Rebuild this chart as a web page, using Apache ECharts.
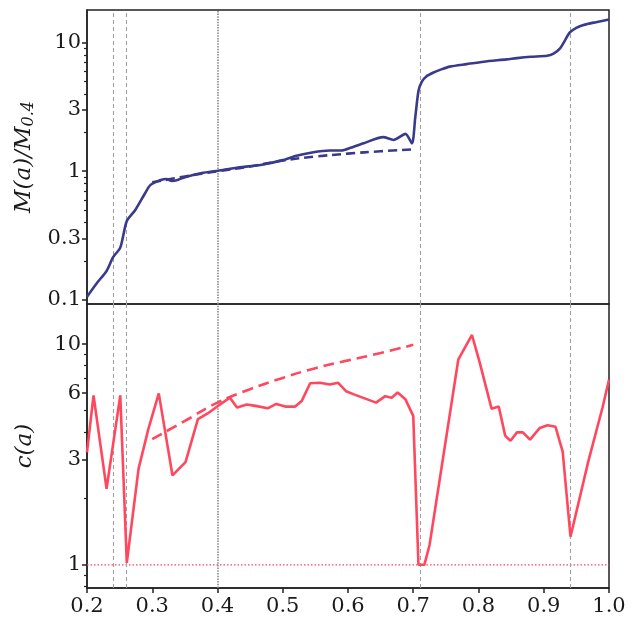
<!DOCTYPE html>
<html>
<head>
<meta charset="utf-8">
<script src="https://cdn.jsdelivr.net/npm/echarts@6/dist/echarts.min.js"></script>
<style>
  html, body { margin: 0; padding: 0; background: #fff; }
  #chart { width: 638px; height: 617px; }
</style>
</head>
<body>
<div id="chart"></div>
<script>
// Mass accretion history, normalised to the mass at a = 0.4
const massA = [0.200, 0.215, 0.230, 0.240, 0.251, 0.261, 0.274, 0.289, 0.297, 0.312,
  0.322, 0.330, 0.340, 0.350, 0.376, 0.401, 0.427, 0.470, 0.500, 0.521,
  0.545, 0.572, 0.590, 0.604, 0.624, 0.654, 0.670, 0.688, 0.698, 0.703,
  0.708, 0.713, 0.720, 0.731, 0.741, 0.756, 0.782, 0.808, 0.843, 0.859,
  0.880, 0.905, 0.915, 0.925, 0.933, 0.940, 0.950, 0.961, 0.980, 1.000];
const massM = [0.106, 0.135, 0.168, 0.215, 0.255, 0.41, 0.50, 0.675, 0.78, 0.85,
  0.87, 0.84, 0.86, 0.90, 0.97, 1.01, 1.06, 1.13, 1.22, 1.32,
  1.40, 1.45, 1.45, 1.52, 1.65, 1.84, 1.75, 1.95, 1.65, 2.6,
  4.2, 4.95, 5.45, 5.85, 6.13, 6.5, 6.8, 7.1, 7.4, 7.57,
  7.75, 7.9, 8.2, 9.0, 10.5, 12.0, 13.0, 13.7, 14.4, 15.1];

// Smooth-accretion fit to the mass history
const massFitA = [0.30, 0.35, 0.40, 0.45, 0.50, 0.55, 0.60, 0.65, 0.70];
const massFitM = [0.82, 0.91, 1.00, 1.09, 1.21, 1.30, 1.37, 1.43, 1.48];

// Concentration c(a)
const concA = [0.200, 0.210, 0.230, 0.251, 0.261, 0.279, 0.294, 0.310, 0.331, 0.351,
  0.370, 0.385, 0.399, 0.419, 0.430, 0.445, 0.458, 0.477, 0.490, 0.504,
  0.519, 0.529, 0.542, 0.557, 0.572, 0.585, 0.597, 0.609, 0.643, 0.657,
  0.667, 0.676, 0.688, 0.700, 0.708, 0.717, 0.725, 0.769, 0.790, 0.802,
  0.820, 0.831, 0.841, 0.849, 0.859, 0.868, 0.879, 0.894, 0.906, 0.918,
  0.929, 0.941, 0.968, 0.990, 1.000];
const concC = [3.23, 5.86, 2.21, 5.86, 1.02, 2.72, 4.12, 5.98, 2.54, 2.92,
  4.57, 4.85, 5.2, 5.72, 5.16, 5.33, 5.25, 5.12, 5.36, 5.21,
  5.21, 5.52, 6.65, 6.68, 6.56, 6.68, 6.12, 5.92, 5.43, 5.81,
  5.72, 6.03, 5.62, 4.73, 1.0, 1.0, 1.23, 8.5, 11.0, 8.22,
  5.1, 5.22, 3.84, 3.65, 3.98, 3.98, 3.69, 4.17, 4.29, 4.22,
  3.26, 1.34, 2.92, 5.15, 6.9];

// Fitted concentration growth
const concFitA = [0.30, 0.35, 0.40, 0.45, 0.50, 0.55, 0.60, 0.65, 0.70];
const concFitC = [3.71, 4.49, 5.43, 6.25, 7.03, 7.78, 8.44, 9.11, 9.93];

// Reference epochs and the c = 1 floor
const markerA = [0.24, 0.26, 0.71, 0.94];
const pivotA = 0.4;
const floorA = [0.2, 1.0];
const floorC = [1, 1];

// Tick values
const massTicks = [0.1, 0.3, 1, 3, 10];
const massMinor = [0.2, 0.4, 0.5, 0.6, 0.7, 0.8, 0.9, 2, 4, 5, 6, 7, 8, 9];
const concTicks = [1, 3, 6, 10];
const concMinor = [0.8, 0.9, 2, 4, 5, 7, 8, 9];

const NAVY = '#3a3a8c';
const RED = '#ff475e';
const FONT = 'DejaVu Serif';

const zip = (xs, ys) => xs.map((x, i) => [x, ys[i]]);
const fmt = v => String(parseFloat(Number(v).toPrecision(3)));

function epochLines() {
  const lines = markerA.map(a => ({
    xAxis: a,
    lineStyle: { color: '#a0a0a0', type: [4, 3], width: 1.1 }
  }));
  lines.push({ xAxis: pivotA, lineStyle: { color: '#8a8a8a', type: [1.5, 1.2], width: 1.6 } });
  return lines;
}

const tickLabel = { fontFamily: FONT, fontSize: 21, color: '#1a1a1a' };

const chart = echarts.init(document.getElementById('chart'), null, { renderer: 'canvas' });

chart.setOption({
  animation: false,
  backgroundColor: '#fff',
  grid: [
    { left: 87, right: 29, top: 10, height: 294, show: true, borderColor: '#222', borderWidth: 1.5, backgroundColor: 'transparent' },
    { left: 87, right: 29, top: 304, height: 287, show: true, borderColor: '#222', borderWidth: 1.5, backgroundColor: 'transparent' }
  ],
  xAxis: [
    { gridIndex: 0, type: 'value', min: 0.2, max: 1.0, interval: 0.1,
      axisLine: { show: false }, axisTick: { show: false }, axisLabel: { show: false }, splitLine: { show: false } },
    { gridIndex: 1, type: 'value', min: 0.2, max: 1.0, interval: 0.1,
      axisLine: { show: true, onZero: false, lineStyle: { color: '#222', width: 1.5 } },
      axisTick: { show: true, length: 5, lineStyle: { color: '#222', width: 1.5 } },
      axisLabel: Object.assign({ margin: 8, formatter: v => Number(v).toFixed(1) }, tickLabel),
      splitLine: { show: false } }
  ],
  yAxis: [
    { gridIndex: 0, type: 'log', logBase: 10, min: 0.093, max: 17.9, position: 'left',
      name: '{i|M(a)/M}{s|0.4}', nameLocation: 'middle', nameGap: 50, nameRotate: 90,
      nameTextStyle: { rich: {
        i: { fontFamily: FONT, fontStyle: 'italic', fontSize: 23, color: '#1a1a1a' },
        s: { fontFamily: FONT, fontStyle: 'italic', fontSize: 16, color: '#1a1a1a', padding: [10, 0, 0, 0] }
      } },
      axisLine: { show: true, lineStyle: { color: '#222', width: 1.5 } },
      axisTick: { show: true, length: 5, customValues: massTicks, lineStyle: { color: '#222', width: 1.5 } },
      axisLabel: Object.assign({ margin: 6, customValues: massTicks, formatter: fmt }, tickLabel),
      splitLine: { show: false } },
    { gridIndex: 0, type: 'log', logBase: 10, min: 0.093, max: 17.9, position: 'left',
      axisLine: { show: false },
      axisTick: { show: true, length: 3, customValues: massMinor, lineStyle: { color: '#222', width: 1.2 } },
      axisLabel: { show: false }, splitLine: { show: false } },
    { gridIndex: 1, type: 'log', logBase: 10, min: 0.785, max: 15.2, position: 'left',
      name: '{i|c(a)}', nameLocation: 'middle', nameGap: 50, nameRotate: 90,
      nameTextStyle: { rich: {
        i: { fontFamily: FONT, fontStyle: 'italic', fontSize: 23, color: '#1a1a1a' }
      } },
      axisLine: { show: true, lineStyle: { color: '#222', width: 1.5 } },
      axisTick: { show: true, length: 5, customValues: concTicks, lineStyle: { color: '#222', width: 1.5 } },
      axisLabel: Object.assign({ margin: 6, customValues: concTicks, formatter: fmt }, tickLabel),
      splitLine: { show: false } },
    { gridIndex: 1, type: 'log', logBase: 10, min: 0.785, max: 15.2, position: 'left',
      axisLine: { show: false },
      axisTick: { show: true, length: 3, customValues: concMinor, lineStyle: { color: '#222', width: 1.2 } },
      axisLabel: { show: false }, splitLine: { show: false } }
  ],
  series: [
    { type: 'line', name: 'mass', xAxisIndex: 0, yAxisIndex: 0, data: zip(massA, massM),
      showSymbol: false, smooth: 0.25, lineStyle: { color: NAVY, width: 2.6 }, z: 5,
      markLine: { silent: true, symbol: ['none', 'none'], label: { show: false }, data: epochLines() } },
    { type: 'line', name: 'mass fit', xAxisIndex: 0, yAxisIndex: 0, data: zip(massFitA, massFitM),
      showSymbol: false, smooth: true, lineStyle: { color: NAVY, width: 2.6, type: [9, 5] }, z: 4 },
    { type: 'line', name: 'c floor', xAxisIndex: 1, yAxisIndex: 2, data: zip(floorA, floorC),
      showSymbol: false, silent: true, lineStyle: { color: RED, width: 1.2, type: [1.5, 2] }, z: 3 },
    { type: 'line', name: 'concentration', xAxisIndex: 1, yAxisIndex: 2, data: zip(concA, concC),
      showSymbol: false, smooth: false, lineStyle: { color: RED, width: 2.6 }, z: 5,
      markLine: { silent: true, symbol: ['none', 'none'], label: { show: false }, data: epochLines() } },
    { type: 'line', name: 'concentration fit', xAxisIndex: 1, yAxisIndex: 2, data: zip(concFitA, concFitC),
      showSymbol: false, smooth: true, lineStyle: { color: RED, width: 2.6, type: [11, 6] }, z: 4 }
  ]
});
</script>
</body>
</html>
